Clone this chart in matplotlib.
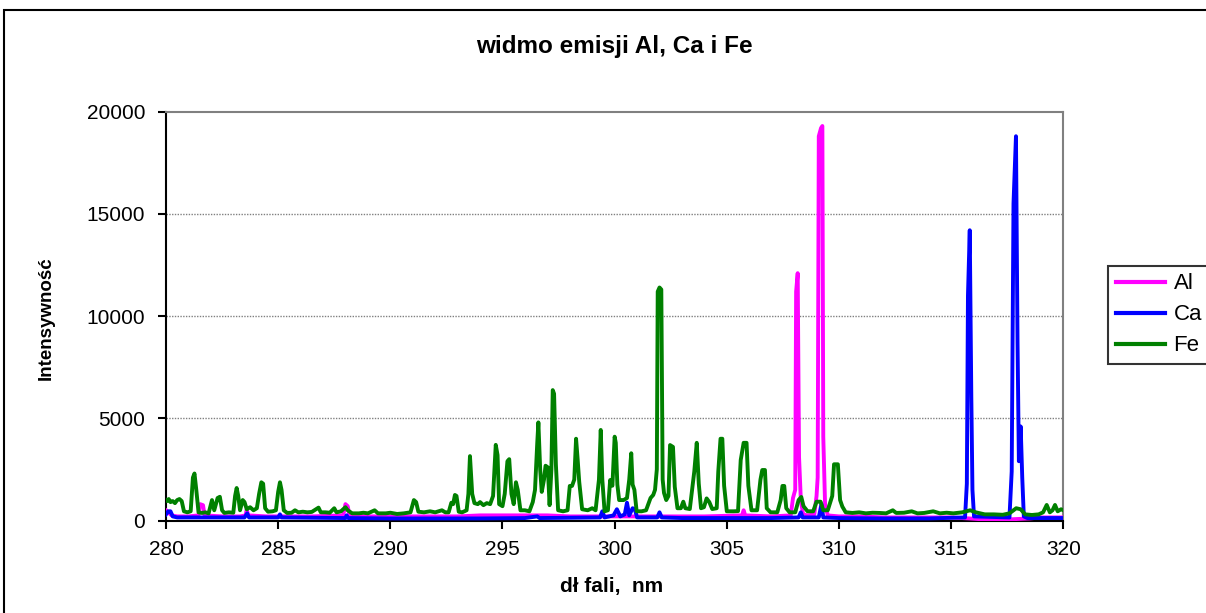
import matplotlib
matplotlib.use("Agg")
import matplotlib.pyplot as plt
from matplotlib.patches import Rectangle

plt.rcParams["font.family"] = ["Liberation Sans", "DejaVu Sans"]

TITLE = "widmo emisji Al, Ca i Fe"
XLABEL = "dł fali,  nm"
YLABEL = "Intensywność"

# Fe spectrum (wavelength nm, intensity)
fe_wl = [280.00, 280.05, 280.12, 280.20, 280.30, 280.40, 280.50, 280.60, 280.70, 280.80,
         280.95, 281.10, 281.20, 281.27, 281.35, 281.45, 281.60, 281.75, 281.90, 282.05,
         282.15, 282.30, 282.40, 282.50, 282.60, 282.80, 283.00, 283.08, 283.15, 283.22,
         283.30, 283.42, 283.50, 283.60, 283.75, 283.90, 284.05, 284.15, 284.25, 284.33,
         284.42, 284.55, 284.75, 284.90, 285.00, 285.08, 285.15, 285.25, 285.40, 285.60,
         285.75, 285.90, 286.10, 286.30, 286.50, 286.80, 286.90, 287.10, 287.30, 287.50,
         287.60, 287.80, 288.00, 288.10, 288.30, 288.60, 288.80, 289.00, 289.30, 289.45,
         289.80, 290.00, 290.30, 290.60, 290.90, 291.05, 291.15, 291.25, 291.50, 291.77,
         292.00, 292.30, 292.45, 292.60, 292.72, 292.80, 292.88, 292.95, 293.05, 293.20,
         293.40, 293.48, 293.55, 293.65, 293.75, 293.90, 294.00, 294.15, 294.30, 294.45,
         294.58, 294.70, 294.78, 294.85, 295.00, 295.10, 295.22, 295.30, 295.40, 295.50,
         295.60, 295.68, 295.80, 296.00, 296.20, 296.35, 296.45, 296.55, 296.60, 296.68,
         296.75, 296.85, 296.92, 297.02, 297.10, 297.18, 297.24, 297.30, 297.38, 297.48,
         297.70, 297.90, 298.00, 298.10, 298.20, 298.28, 298.35, 298.42, 298.55, 298.80,
         299.00, 299.15, 299.30, 299.38, 299.45, 299.55, 299.70, 299.80, 299.90, 300.00,
         300.05, 300.12, 300.20, 300.40, 300.55, 300.65, 300.74, 300.80, 300.88, 300.98,
         301.20, 301.40, 301.60, 301.72, 301.80, 301.88, 301.92, 302.00, 302.08, 302.14,
         302.20, 302.30, 302.40, 302.47, 302.60, 302.68, 302.80, 302.95, 303.06, 303.15,
         303.35, 303.55, 303.66, 303.75, 303.85, 303.98, 304.10, 304.22, 304.35, 304.55,
         304.62, 304.72, 304.80, 304.88, 305.00, 305.30, 305.50, 305.62, 305.75, 305.88,
         305.96, 306.10, 306.35, 306.50, 306.58, 306.70, 306.78, 306.95, 307.25, 307.40,
         307.48, 307.56, 307.65, 307.80, 308.05, 308.20, 308.32, 308.42, 308.60, 308.85,
         309.00, 309.18, 309.30, 309.50, 309.70, 309.78, 309.95, 310.05, 310.15, 310.30,
         310.60, 310.90, 311.20, 311.50, 311.80, 312.10, 312.40, 312.55, 312.90, 313.24,
         313.50, 313.80, 314.20, 314.50, 314.80, 315.10, 315.50, 315.85, 316.10, 316.50,
         316.90, 317.30, 317.60, 317.90, 318.10, 318.30, 318.60, 318.90, 319.10, 319.26,
         319.40, 319.52, 319.63, 319.75, 319.90, 320.00]
fe_int = [1000, 950, 1050, 900, 950, 850, 1000, 1050, 950, 450,
          400, 450, 2100, 2300, 1500, 400, 370, 400, 350, 1000,
          500, 1100, 1160, 500, 370, 400, 380, 1200, 1590, 1200,
          500, 1000, 900, 550, 650, 500, 600, 1300, 1870, 1800,
          600, 430, 450, 500, 1400, 1870, 1500, 500, 370, 380,
          500, 400, 430, 400, 420, 630, 400, 400, 380, 600,
          400, 450, 650, 500, 350, 350, 380, 350, 500, 350,
          350, 380, 320, 350, 400, 1000, 900, 430, 400, 450,
          400, 500, 400, 400, 870, 800, 1250, 1200, 430, 400,
          500, 1300, 3150, 1300, 850, 800, 900, 750, 850, 800,
          1200, 3700, 3200, 800, 700, 1300, 2900, 3000, 1300, 800,
          1870, 1500, 500, 500, 450, 900, 1500, 3800, 4800, 2500,
          1400, 2000, 2680, 2600, 750, 2500, 6380, 6200, 2750, 500,
          450, 500, 1690, 1690, 2000, 4000, 3000, 1900, 550, 500,
          600, 500, 2000, 4430, 2000, 450, 500, 1980, 1700, 4100,
          3800, 1760, 1000, 1000, 1100, 2000, 3290, 1760, 1500, 450,
          450, 500, 1100, 1250, 1500, 2500, 11200, 11400, 11300, 2000,
          1350, 1000, 1200, 3690, 3600, 1650, 600, 600, 920, 600,
          560, 2400, 3800, 1800, 600, 650, 1080, 900, 560, 600,
          2400, 4000, 4000, 1700, 450, 450, 460, 2960, 3800, 3800,
          1700, 500, 500, 2000, 2470, 2470, 600, 400, 400, 1000,
          1690, 1690, 600, 400, 400, 1000, 1150, 700, 450, 450,
          920, 920, 500, 500, 1200, 2750, 2750, 1000, 680, 400,
          370, 400, 350, 380, 370, 350, 500, 370, 380, 450,
          350, 370, 450, 350, 380, 350, 400, 500, 400, 300,
          300, 280, 350, 600, 550, 300, 270, 300, 400, 760,
          400, 500, 760, 450, 550, 500]

# Al spectrum
al_wl = [280.00, 280.10, 280.25, 280.50, 281.00, 281.45, 281.52, 281.65, 281.72, 282.50,
         283.30, 283.55, 283.60, 283.66, 284.50, 285.50, 286.50, 287.90, 288.00, 288.10,
         288.18, 289.00, 290.00, 291.00, 292.00, 293.00, 294.00, 295.00, 296.00, 297.00,
         298.00, 299.00, 300.00, 302.00, 304.00, 305.68, 305.75, 305.82, 307.00, 307.85,
         307.95, 308.05, 308.09, 308.16, 308.22, 308.30, 308.40, 308.60, 308.90, 309.00,
         309.05, 309.10, 309.20, 309.26, 309.30, 309.38, 309.50, 310.00, 311.00, 312.00,
         313.00, 314.00, 315.00, 315.80, 316.50, 317.50, 318.50, 319.00, 320.00]
al_int = [500, 400, 250, 200, 200, 250, 800, 750, 250, 200,
          200, 250, 550, 250, 200, 200, 200, 250, 800, 700,
          250, 200, 200, 200, 200, 200, 250, 250, 250, 250,
          200, 200, 200, 200, 200, 250, 500, 250, 200, 250,
          1100, 1500, 11200, 12100, 3100, 1000, 300, 250, 300, 1200,
          2100, 18800, 19200, 19300, 4100, 800, 250, 200, 200, 150,
          150, 150, 150, 100, 50, 50, 100, 150, 150]

# Ca spectrum
ca_wl = [280.00, 280.10, 280.20, 280.30, 280.50, 283.50, 283.62, 283.70, 285.00, 285.08,
         285.15, 288.00, 288.05, 288.12, 290.00, 292.00, 294.00, 296.00, 296.55, 296.65,
         299.35, 299.45, 299.55, 299.95, 300.10, 300.25, 300.45, 300.55, 300.65, 300.80,
         300.90, 301.00, 301.90, 302.00, 302.10, 303.00, 305.00, 307.00, 308.20, 308.30,
         308.38, 309.10, 309.22, 309.30, 310.00, 312.00, 314.00, 315.62, 315.70, 315.75,
         315.83, 315.90, 315.95, 316.02, 317.60, 317.70, 317.78, 317.89, 317.96, 318.02,
         318.10, 318.17, 318.24, 318.40, 319.00, 320.00]
ca_int = [300, 450, 450, 200, 150, 150, 350, 150, 150, 300,
          150, 120, 250, 120, 100, 100, 100, 120, 200, 120,
          150, 450, 150, 250, 550, 200, 300, 870, 250, 600,
          550, 150, 150, 400, 150, 120, 120, 120, 150, 400,
          150, 150, 800, 150, 120, 100, 100, 150, 1800, 11000,
          14200, 6000, 1500, 200, 150, 2400, 15500, 18800, 8700, 2900,
          4600, 2100, 200, 120, 120, 120]

fig = plt.figure(figsize=(12.06, 6.13), dpi=100)
ax = fig.add_axes([166 / 1206, 1 - 520.5 / 613, (1063.3 - 166) / 1206, (520.5 - 111.7) / 613])

lw = 2.8
ax.plot(al_wl, al_int, color="#FF00FF", lw=lw, label="Al", zorder=3)
ax.plot(ca_wl, ca_int, color="#0000FF", lw=lw, label="Ca", zorder=4)
ax.plot(fe_wl, fe_int, color="#008000", lw=lw, label="Fe", zorder=5)

ax.set_xlim(280, 320)
ax.set_ylim(0, 20000)
ax.set_xticks(range(280, 321, 5))
ax.set_yticks(range(0, 20001, 5000))
for yv in (5000, 10000, 15000):
    ax.axhline(yv, color="#808080", lw=1.0, linestyle=(0, (1, 1)), zorder=1)

for side in ("top", "right"):
    ax.spines[side].set_color("#808080")
    ax.spines[side].set_linewidth(1.5)
for side in ("left", "bottom"):
    ax.spines[side].set_color("black")
    ax.spines[side].set_linewidth(1.5)

ax.tick_params(axis="both", direction="out", length=6, width=1.5, labelsize=15)
ax.tick_params(axis="y", pad=9)
ax.tick_params(axis="x", pad=8)

fig.text(614.6 / 1206, 1 - 53.3 / 613, TITLE, ha="center", va="baseline",
         fontsize=17.5, fontweight="bold")
fig.text(612 / 1206, 1 - 592 / 613, XLABEL, ha="center", va="baseline",
         fontsize=15, fontweight="bold")
fig.text(46 / 1206, 1 - 318 / 613, YLABEL, ha="center", va="center",
         rotation=90, fontsize=13.5, fontweight="bold")

leg = fig.legend(loc="upper left", bbox_to_anchor=(1108 / 1206, 1 - 265.7 / 613),
                 fontsize=16, frameon=True, fancybox=False, shadow=False,
                 handlelength=2.2, handletextpad=0.4, borderpad=0.35,
                 labelspacing=0.45, borderaxespad=0)
leg.get_frame().set_edgecolor("black")
leg.get_frame().set_linewidth(1.5)
for h in leg.get_lines():
    h.set_linewidth(3)

# outer chart border (runs off the right and bottom edge)
fig.add_artist(Rectangle((4 / 1206, -0.1), 1.2, 1.1 - 10 / 613, transform=fig.transFigure,
                         fill=False, edgecolor="black", lw=1.5))

fig.savefig("out.png", dpi=100)
